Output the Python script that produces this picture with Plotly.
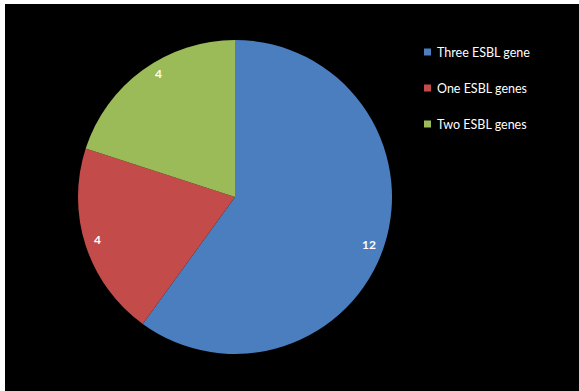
import plotly.graph_objects as go

labels = ["Three ESBL gene", "One ESBL genes", "Two ESBL genes"]
values = [12, 4, 4]
colors = ["#4A7EBF", "#C34C4A", "#9BBB59"]

W, H = 579, 391

def px(x):
    return x / W

def py(y):
    return 1 - y / H

cx, cy, r = 235, 197, 157

# pixel positions of the value labels (layout only)
value_label_pos = [(369, 244), (97, 239), (158, 73)]

fig = go.Figure()
fig.add_trace(go.Pie(
    labels=labels,
    values=values,
    sort=False,
    direction="clockwise",
    rotation=0,
    marker=dict(colors=colors, line=dict(width=0)),
    textinfo="none",
    domain=dict(x=[px(cx - r), px(cx + r)], y=[py(cy + r), py(cy - r)]),
    showlegend=False,
    hoverinfo="label+value",
))

shapes = [dict(type="rect", xref="paper", yref="paper", x0=px(5), x1=1, y0=0, y1=py(4),
               fillcolor="black", line=dict(width=0), layer="below")]
annotations = []
for v, (lx, ly) in zip(values, value_label_pos):
    annotations.append(dict(text=str(v), xref="paper", yref="paper", x=px(lx), y=py(ly),
                            xanchor="center", yanchor="middle", showarrow=False,
                            font=dict(family="Lato", size=12, color="white", weight="bold")))

legend_y = [52, 88, 124]
for lab, col, yy in zip(labels, colors, legend_y):
    shapes.append(dict(type="rect", xref="paper", yref="paper",
                       x0=px(424), x1=px(431), y0=py(yy + 3.5), y1=py(yy - 3.5),
                       fillcolor=col, line=dict(width=0)))
    annotations.append(dict(text=lab, xref="paper", yref="paper", x=px(435), y=py(yy),
                            xanchor="left", yanchor="middle", showarrow=False,
                            font=dict(family="Lato", size=12.5, color="white")))

fig.update_layout(
    width=W, height=H,
    margin=dict(l=0, r=0, t=0, b=0),
    paper_bgcolor="white",
    plot_bgcolor="black",
    shapes=shapes,
    annotations=annotations,
)

fig.write_html("out.html")
